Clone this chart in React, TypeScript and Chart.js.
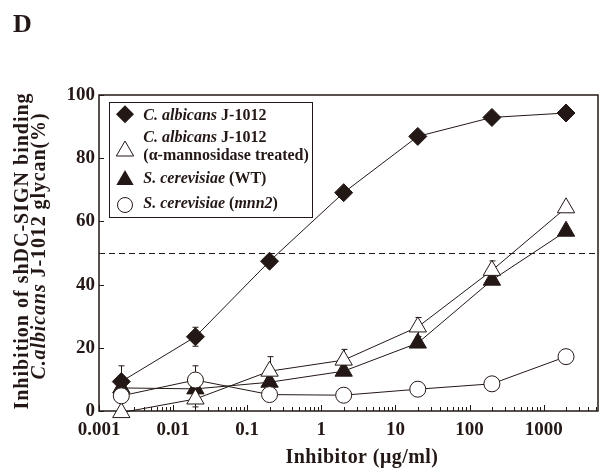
import { useEffect, useRef } from 'react';
import { Chart, registerables } from 'chart.js';

Chart.register(...registerables);

// ---- data ----
const xValues = [0.002, 0.02, 0.2, 2, 20, 200, 2000];
const xTickValues = [0.001, 0.01, 0.1, 1, 10, 100, 1000];
const xTickLabels = ['0.001', '0.01', '0.1', '1', '10', '100', '1000'];
const yTickValues = [0, 20, 40, 60, 80, 100];
const albicans = [9.3, 23.5, 47.4, 69.1, 86.9, 92.9, 94.3];
const albicansErr = [5, 3, 0, 0, 0, 0, 0];
const albicansMan = [-0.5, 3.8, 12.6, 16.1, 26.6, 44.5, 64.3];
const albicansManErr = [0, 2.5, 4.6, 3.4, 3, 3, 0];
const cerevisiaeWT = [7.3, 7.0, 9.1, 12.6, 21.5, 41.4, 56.9];
const cerevisiaeWTErr = [0, 0, 0, 0, 0, 0, 0];
const mnn2 = [4.8, 9.8, 5.2, 5.0, 6.9, 8.6, 17.2];
const mnn2Err = [0, 4.5, 0, 0, 0, 2, 0];
const threshold = 50;
const xMin = 0.001;
const xMax = 5400;

const INK = '#231815';
const SERIF = '"Liberation Serif", "Times New Roman", serif';

type Seg = { t: string; it?: boolean };

function drawSegs(ctx: CanvasRenderingContext2D, segs: Seg[], x: number, y: number, size: number, spacing: number, align: 'left' | 'center') {
  const fonts = segs.map((s) => `${s.it ? 'italic ' : ''}bold ${size}px ${SERIF}`);
  (ctx as any).letterSpacing = `${spacing}px`;
  let total = 0;
  const widths = segs.map((s, i) => {
    ctx.font = fonts[i];
    const w = ctx.measureText(s.t).width;
    total += w;
    return w;
  });
  let cx = align === 'center' ? x - total / 2 : x;
  ctx.textAlign = 'left';
  segs.forEach((s, i) => {
    ctx.font = fonts[i];
    ctx.fillText(s.t, cx, y);
    cx += widths[i];
  });
  (ctx as any).letterSpacing = '0px';
}

function triangle(ctx: CanvasRenderingContext2D, x: number, y: number, r: number) {
  ctx.beginPath();
  for (let k = 0; k < 3; k++) {
    const a = (k * 2 * Math.PI) / 3;
    const px = x + Math.sin(a) * r;
    const py = y - Math.cos(a) * r;
    if (k === 0) ctx.moveTo(px, py);
    else ctx.lineTo(px, py);
  }
  ctx.closePath();
}

const decoPlugin = {
  id: 'deco',
  beforeDatasetsDraw(chart: any) {
    const { ctx, chartArea: a, scales } = chart;
    const x = scales.x;
    const y = scales.y;
    ctx.save();
    ctx.strokeStyle = INK;
    ctx.lineWidth = 1.5;
    ctx.strokeRect(a.left, a.top, a.right - a.left, a.bottom - a.top);
    ctx.lineWidth = 1;
    yTickValues.forEach((v) => {
      const py = Math.round(y.getPixelForValue(v)) + 0.5;
      ctx.beginPath();
      ctx.moveTo(a.left, py);
      ctx.lineTo(a.left + 5, py);
      ctx.stroke();
    });
    for (let d = -3; d <= 3; d++) {
      for (let m = 1; m <= 9; m++) {
        const v = m * Math.pow(10, d);
        if (v < xMin * 0.999 || v > xMax) continue;
        const px = Math.round(x.getPixelForValue(v)) + 0.5;
        const len = m === 1 ? 6 : 4;
        ctx.beginPath();
        ctx.moveTo(px, a.bottom);
        ctx.lineTo(px, a.bottom - len);
        ctx.stroke();
      }
    }
    // threshold dashed line
    const ty = Math.round(y.getPixelForValue(threshold)) + 0.5;
    ctx.setLineDash([6, 4]);
    ctx.beginPath();
    ctx.moveTo(a.left, ty);
    ctx.lineTo(a.right, ty);
    ctx.stroke();
    ctx.setLineDash([]);
    // error bars
    const series: [number[], number[]][] = [
      [albicans, albicansErr],
      [albicansMan, albicansManErr],
      [cerevisiaeWT, cerevisiaeWTErr],
      [mnn2, mnn2Err],
    ];
    series.forEach(([vals, errs]) => {
      vals.forEach((v, i) => {
        const e = errs[i];
        if (!e) return;
        const px = Math.round(x.getPixelForValue(xValues[i])) + 0.5;
        const t = y.getPixelForValue(v + e);
        const b = y.getPixelForValue(v - e);
        ctx.beginPath();
        ctx.moveTo(px, t);
        ctx.lineTo(px, b);
        ctx.moveTo(px - 3, t);
        ctx.lineTo(px + 3, t);
        ctx.moveTo(px - 3, b);
        ctx.lineTo(px + 3, b);
        ctx.stroke();
      });
    });
    ctx.restore();
  },
  afterDraw(chart: any) {
    const { ctx } = chart;
    ctx.save();
    ctx.fillStyle = INK;
    ctx.strokeStyle = INK;
    ctx.textBaseline = 'alphabetic';
    // panel letter
    ctx.font = `bold 26px ${SERIF}`;
    ctx.textAlign = 'left';
    ctx.fillText('D', 13, 32);
    // legend
    ctx.lineWidth = 1;
    ctx.fillStyle = '#ffffff';
    ctx.fillRect(109.5, 102.5, 203, 115);
    ctx.strokeRect(109.5, 102.5, 203, 115);
    ctx.fillStyle = INK;
    // diamond
    ctx.beginPath();
    ctx.moveTo(125, 114.3 - 9);
    ctx.lineTo(134, 114.3);
    ctx.lineTo(125, 114.3 + 9);
    ctx.lineTo(116, 114.3);
    ctx.closePath();
    ctx.fill();
    // open triangle
    triangle(ctx, 125, 151, 10);
    ctx.fillStyle = '#ffffff';
    ctx.fill();
    ctx.stroke();
    ctx.fillStyle = INK;
    // filled triangle
    triangle(ctx, 125, 180, 10);
    ctx.fill();
    // open circle
    ctx.beginPath();
    ctx.arc(125, 205, 7.5, 0, Math.PI * 2);
    ctx.fillStyle = '#ffffff';
    ctx.fill();
    ctx.stroke();
    ctx.fillStyle = INK;
    const lx = 143.3;
    drawSegs(ctx, [{ t: 'C. albicans', it: true }, { t: ' J-1012' }], lx, 120, 16, 0, 'left');
    drawSegs(ctx, [{ t: 'C. albicans', it: true }, { t: ' J-1012' }], lx, 142.3, 16, 0, 'left');
    drawSegs(ctx, [{ t: '(α-mannosidase treated)' }], lx, 160, 16, 0, 'left');
    drawSegs(ctx, [{ t: 'S. cerevisiae', it: true }, { t: ' (WT)' }], lx, 183.3, 16, 0, 'left');
    drawSegs(ctx, [{ t: 'S. cerevisiae', it: true }, { t: ' (' }, { t: 'mnn2', it: true }, { t: ')' }], lx, 208.3, 16, 0, 'left');
    // x title
    drawSegs(ctx, [{ t: 'Inhibitor (μg/ml)' }], 362, 463, 20, 0.45, 'center');
    // y title
    ctx.save();
    ctx.translate(28, 251);
    ctx.rotate(-Math.PI / 2);
    drawSegs(ctx, [{ t: 'Inhibition of shDC-SIGN binding' }], 0, 0, 20, 1.0, 'center');
    ctx.restore();
    ctx.save();
    ctx.translate(45, 246);
    ctx.rotate(-Math.PI / 2);
    drawSegs(ctx, [{ t: 'C.albicans', it: true }, { t: ' J-1012 glycan(%)' }], 0, 0, 20, 0.9, 'center');
    ctx.restore();
    ctx.restore();
  },
};

function makeData(vals: number[]) {
  return xValues.map((x, i) => ({ x, y: vals[i] }));
}

export default function App() {
  const ref = useRef<HTMLCanvasElement | null>(null);
  useEffect(() => {
    if (!ref.current) return;
    const common = {
      borderColor: INK,
      borderWidth: 1,
      pointBorderColor: INK,
      pointBorderWidth: 1,
      tension: 0,
      fill: false,
      clip: false as any,
    };
    const chart = new Chart(ref.current, {
      type: 'line',
      data: {
        datasets: [
          {
            ...common,
            label: 'C. albicans J-1012',
            data: makeData(albicans),
            pointStyle: 'rectRot',
            pointRadius: 9,
            pointBackgroundColor: INK,
            backgroundColor: INK,
            order: 4,
          },
          {
            ...common,
            label: 'S. cerevisiae (WT)',
            data: makeData(cerevisiaeWT),
            pointStyle: 'triangle',
            pointRadius: 10,
            pointBackgroundColor: INK,
            backgroundColor: INK,
            order: 3,
          },
          {
            ...common,
            label: 'C. albicans J-1012 (α-mannosidase treated)',
            data: makeData(albicansMan),
            pointStyle: 'triangle',
            pointRadius: 10,
            pointBackgroundColor: '#ffffff',
            backgroundColor: '#ffffff',
            order: 2,
          },
          {
            ...common,
            label: 'S. cerevisiae (mnn2)',
            data: makeData(mnn2),
            pointStyle: 'circle',
            pointRadius: 8,
            pointBackgroundColor: '#ffffff',
            backgroundColor: '#ffffff',
            order: 1,
          },
        ] as any,
      },
      options: {
        responsive: false,
        animation: false,
        devicePixelRatio: 1,
        layout: { padding: { top: 95, right: 3, left: 0, bottom: 0 } },
        plugins: { legend: { display: false }, tooltip: { enabled: false } },
        scales: {
          x: {
            type: 'logarithmic',
            min: xMin,
            max: xMax,
            grid: { display: false, drawTicks: false },
            border: { display: false },
            ticks: {
              color: INK,
              font: { family: SERIF, size: 19, weight: 'bold' },
              padding: 8,
              autoSkip: false,
              maxRotation: 0,
              callback: (_v: any, i: number) => xTickLabels[i],
            },
            afterBuildTicks: (s: any) => {
              s.ticks = xTickValues.map((v) => ({ value: v }));
            },
            afterFit: (s: any) => {
              s.height = 63;
            },
          },
          y: {
            type: 'linear',
            min: 0,
            max: 100,
            grid: { display: false, drawTicks: false },
            border: { display: false },
            ticks: {
              color: INK,
              font: { family: SERIF, size: 19, weight: 'bold' },
              padding: 4,
              callback: (v: any) => String(v),
            },
            afterBuildTicks: (s: any) => {
              s.ticks = yTickValues.map((v) => ({ value: v }));
            },
            afterFit: (s: any) => {
              s.width = 99;
            },
          },
        },
      } as any,
      plugins: [decoPlugin],
    });
    return () => chart.destroy();
  }, []);
  return (
    <div style={{ position: 'fixed', left: 0, top: 0, width: 609, height: 474, background: '#fff' }}>
      <canvas ref={ref} width={609} height={474} />
    </div>
  );
}
